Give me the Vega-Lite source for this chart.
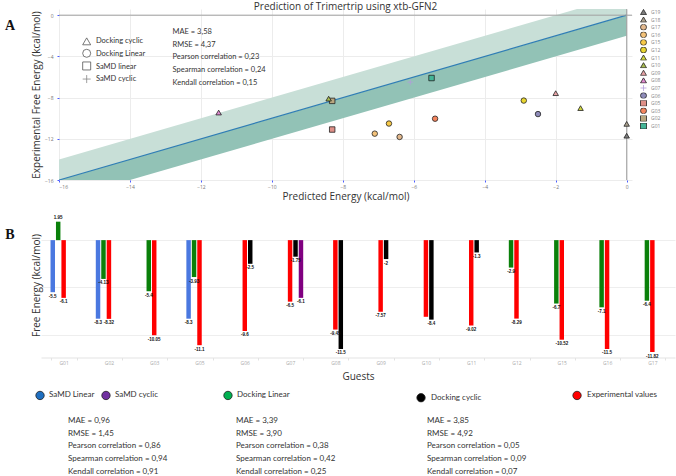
{
  "$schema": "https://vega.github.io/schema/vega-lite/v6.json",
  "background": "white",
  "padding": {"left": 4, "top": 1, "right": 0, "bottom": 0},
  "columns": 1,
  "align": "none",
  "spacing": 6,
  "resolve": {
    "scale": {"color": "independent", "shape": "independent", "stroke": "independent"},
    "legend": {"color": "independent", "shape": "independent", "stroke": "independent"}
  },
  "datasets": {
    "band": [
      {"pred": -16, "lo": -18, "mid": -16, "hi": -14},
      {"pred": 0, "lo": -2, "mid": 0, "hi": 2}
    ],
    "points": [
      {"guest": "G01", "method": "SaMD linear", "pred": -5.5, "exp": -6.1},
      {"guest": "G02", "method": "SaMD linear", "pred": -8.3, "exp": -8.32},
      {"guest": "G03", "method": "Docking Linear", "pred": -5.4, "exp": -10.05},
      {"guest": "G05", "method": "SaMD linear", "pred": -8.3, "exp": -11.1},
      {"guest": "G06", "method": "Docking Linear", "pred": -2.5, "exp": -9.6},
      {"guest": "G07", "method": "SaMD cyclic", "pred": -6.1, "exp": -6.5},
      {"guest": "G08", "method": "Docking cyclic", "pred": -11.5, "exp": -9.45},
      {"guest": "G09", "method": "Docking cyclic", "pred": -2.0, "exp": -7.57},
      {"guest": "G10", "method": "Docking cyclic", "pred": -8.4, "exp": -8.1},
      {"guest": "G11", "method": "Docking cyclic", "pred": -1.3, "exp": -9.02},
      {"guest": "G12", "method": "Docking Linear", "pred": -2.9, "exp": -8.29},
      {"guest": "G15", "method": "Docking Linear", "pred": -6.7, "exp": -10.52},
      {"guest": "G16", "method": "Docking Linear", "pred": -7.1, "exp": -11.5},
      {"guest": "G17", "method": "Docking Linear", "pred": -6.4, "exp": -11.82},
      {"guest": "G18", "method": "Docking cyclic", "pred": 0, "exp": -10.55},
      {"guest": "G19", "method": "Docking cyclic", "pred": 0, "exp": -11.7}
    ],
    "bars": [
      {"guest": "G01", "series": "SaMD Linear", "value": -5.5, "label": "-5.5"},
      {"guest": "G01", "series": "Docking Linear", "value": 1.95, "label": "1.95"},
      {"guest": "G01", "series": "Experimental values", "value": -6.1, "label": "-6.1"},
      {"guest": "G02", "series": "SaMD Linear", "value": -8.3, "label": "-8.3"},
      {"guest": "G02", "series": "Docking Linear", "value": -4.1, "label": "-4.13"},
      {"guest": "G02", "series": "Experimental values", "value": -8.32, "label": "-8.32"},
      {"guest": "G03", "series": "Docking Linear", "value": -5.4, "label": "-5.4"},
      {"guest": "G03", "series": "Experimental values", "value": -10.05, "label": "-10.05"},
      {"guest": "G05", "series": "SaMD Linear", "value": -8.3, "label": "-8.3"},
      {"guest": "G05", "series": "Docking Linear", "value": -3.9, "label": "-3.93"},
      {"guest": "G05", "series": "Experimental values", "value": -11.1, "label": "-11.1"},
      {"guest": "G06", "series": "Experimental values", "value": -9.6, "label": "-9.6"},
      {"guest": "G06", "series": "Docking cyclic", "value": -2.5, "label": "-2.5"},
      {"guest": "G07", "series": "Experimental values", "value": -6.5, "label": "-6.5"},
      {"guest": "G07", "series": "Docking cyclic", "value": -1.75, "label": "-1.75"},
      {"guest": "G07", "series": "SaMD cyclic", "value": -6.1, "label": "-6.1"},
      {"guest": "G08", "series": "Experimental values", "value": -9.45, "label": "-9.45"},
      {"guest": "G08", "series": "Docking cyclic", "value": -11.5, "label": "-11.5"},
      {"guest": "G09", "series": "Experimental values", "value": -7.57, "label": "-7.57"},
      {"guest": "G09", "series": "Docking cyclic", "value": -2, "label": "-2"},
      {"guest": "G10", "series": "Experimental values", "value": -8.1, "label": ""},
      {"guest": "G10", "series": "Docking cyclic", "value": -8.4, "label": "-8.4"},
      {"guest": "G11", "series": "Experimental values", "value": -9.02, "label": "-9.02"},
      {"guest": "G11", "series": "Docking cyclic", "value": -1.3, "label": "-1.3"},
      {"guest": "G12", "series": "Docking Linear", "value": -2.9, "label": "-2.9"},
      {"guest": "G12", "series": "Experimental values", "value": -8.29, "label": "-8.29"},
      {"guest": "G15", "series": "Docking Linear", "value": -6.7, "label": "-6.7"},
      {"guest": "G15", "series": "Experimental values", "value": -10.52, "label": "-10.52"},
      {"guest": "G16", "series": "Docking Linear", "value": -7.1, "label": "-7.1"},
      {"guest": "G16", "series": "Experimental values", "value": -11.5, "label": "-11.5"},
      {"guest": "G17", "series": "Docking Linear", "value": -6.4, "label": "-6.4"},
      {"guest": "G17", "series": "Experimental values", "value": -11.82, "label": "-11.82"}
    ]
  },
  "concat": [
    {
      "width": 573,
      "height": 171,
      "title": {"text": "Prediction of Trimertrip using xtb-GFN2", "font": "Open Sans", "fontSize": 10, "fontWeight": "normal", "color": "#333333", "offset": -3},
      "layer": [
        {
          "data": {"name": "band"},
          "mark": {"type": "area", "color": "#c8dfd7", "clip": true},
          "encoding": {
            "x": {"field": "pred", "type": "quantitative", "title": "Predicted Energy (kcal/mol)",
              "scale": {"domain": [-16, 0.15], "nice": false, "zero": false},
              "axis": {"values": [-16,-15,-14,-13,-12,-11,-10,-9,-8,-7,-6,-5,-4,-3,-2,-1,0], "grid": true, "gridColor": "#ececec", "domain": false, "tickColor": "#4b5cff", "tickSize": 2, "labelFontSize": 5, "labelColor": "#777777", "labelPadding": 2, "titleFontSize": 10, "titleFontWeight": "normal", "titleColor": "#333333", "titlePadding": 2}},
            "y": {"field": "hi", "type": "quantitative", "title": "Experimental Free Energy (kcal/mol)",
              "scale": {"domain": [-16, 0.6], "nice": false, "zero": false},
              "axis": {"values": [-16,-15,-14,-13,-12,-11,-10,-9,-8,-7,-6,-5,-4,-3,-2,-1,0], "grid": true, "gridColor": "#ececec", "domain": false, "tickColor": "#4b5cff", "tickSize": 2, "labelFontSize": 5, "labelColor": "#777777", "labelPadding": 4, "titleFontSize": 10, "titleFontWeight": "normal", "titleColor": "#333333", "titlePadding": 3}},
            "y2": {"field": "mid"}
          }
        },
        {
          "data": {"name": "band"},
          "mark": {"type": "area", "color": "#92c2b6", "clip": true},
          "encoding": {
            "x": {"field": "pred", "type": "quantitative", "title": "Predicted Energy (kcal/mol)"},
            "y": {"field": "mid", "type": "quantitative", "title": "Experimental Free Energy (kcal/mol)"},
            "y2": {"field": "lo"}
          }
        },
        {
          "data": {"name": "band"},
          "mark": {"type": "line", "color": "#2f7db5", "strokeWidth": 1.2, "clip": true},
          "encoding": {
            "x": {"field": "pred", "type": "quantitative", "title": "Predicted Energy (kcal/mol)"},
            "y": {"field": "mid", "type": "quantitative", "title": "Experimental Free Energy (kcal/mol)"}
          }
        },
        {
          "data": {"values": [{}]},
          "mark": {"type": "rule", "color": "#a0a0a0", "strokeWidth": 1},
          "encoding": {"y": {"datum": 0}}
        },
        {
          "data": {"values": [{}]},
          "mark": {"type": "rule", "color": "#a0a0a0", "strokeWidth": 1},
          "encoding": {"x": {"datum": 0}}
        },
        {
          "data": {"name": "points"},
          "mark": {"type": "point", "filled": true, "size": 30, "strokeWidth": 0.8, "opacity": 1},
          "encoding": {
            "x": {"field": "pred", "type": "quantitative", "title": "Predicted Energy (kcal/mol)"},
            "y": {"field": "exp", "type": "quantitative", "title": "Experimental Free Energy (kcal/mol)"},
            "color": {"field": "guest", "type": "nominal",
              "scale": {"domain": ["G19","G18","G17","G16","G15","G12","G11","G10","G09","G08","G07","G06","G05","G03","G02","G01"],
                "range": ["#7d7d7d","#a89e8c","#e3b98e","#f3c27a","#f7c948","#e9d630","#cfd640","#a8bb50","#e9a3a6","#e08ad0","#b49cdc","#8e8bb9","#df9088","#f4855e","#b9a77f","#43b597"]},
              "legend": {"title": null, "orient": "right", "offset": 8, "labelFontSize": 5, "labelColor": "#888888", "symbolSize": 36, "rowPadding": 1.6, "clipHeight": 6, "labelOffset": 4, "symbolStrokeWidth": 0.8, "labelOverlap": false}},
            "shape": {"field": "guest", "type": "nominal",
              "scale": {"domain": ["G19","G18","G17","G16","G15","G12","G11","G10","G09","G08","G07","G06","G05","G03","G02","G01"],
                "range": ["triangle-up","triangle-up","circle","circle","circle","circle","triangle-up","triangle-up","triangle-up","triangle-up","M-1,0H1M0,-1V1","circle","square","circle","square","square"]},
              "legend": {"title": null, "orient": "right", "offset": 8, "labelFontSize": 5, "labelColor": "#888888", "symbolSize": 36, "rowPadding": 1.6, "clipHeight": 6, "labelOffset": 4, "symbolStrokeWidth": 0.8, "labelOverlap": false}},
            "stroke": {"field": "guest", "type": "nominal",
              "scale": {"domain": ["G19","G18","G17","G16","G15","G12","G11","G10","G09","G08","G07","G06","G05","G03","G02","G01"],
                "range": ["#222222","#222222","#222222","#222222","#222222","#222222","#222222","#222222","#222222","#222222","#b49cdc","#222222","#222222","#222222","#222222","#222222"]},
              "legend": {"title": null, "orient": "right", "offset": 8, "labelFontSize": 5, "labelColor": "#888888", "symbolSize": 36, "rowPadding": 1.6, "clipHeight": 6, "labelOffset": 4, "symbolStrokeWidth": 0.8, "labelOverlap": false}}
          }
        },
        {
          "data": {"values": [{}]},
          "mark": {"type": "point", "shape": "triangle-up", "filled": false, "fill": "#ffffff", "stroke": "#555555", "strokeWidth": 0.8, "size": 64, "opacity": 1},
          "encoding": {"x": {"datum": -15.22}, "y": {"datum": -2.54}}
        },
        {
          "data": {"values": [{}]},
          "mark": {"type": "point", "shape": "circle", "filled": false, "fill": "#ffffff", "stroke": "#555555", "strokeWidth": 0.8, "size": 64, "opacity": 1},
          "encoding": {"x": {"datum": -15.22}, "y": {"datum": -3.7}}
        },
        {
          "data": {"values": [{}]},
          "mark": {"type": "point", "shape": "square", "filled": false, "fill": "#ffffff", "stroke": "#555555", "strokeWidth": 0.8, "size": 64, "opacity": 1},
          "encoding": {"x": {"datum": -15.22}, "y": {"datum": -4.93}}
        },
        {
          "data": {"values": [{}]},
          "mark": {"type": "point", "shape": "M-1,0H1M0,-1V1", "filled": false, "stroke": "#888888", "strokeWidth": 0.8, "size": 64, "opacity": 1},
          "encoding": {"x": {"datum": -15.22}, "y": {"datum": -6.2}}
        },
        {
          "data": {"values": [{}]},
          "mark": {"type": "text", "align": "left", "baseline": "middle", "font": "Lato", "fontSize": 7.5, "lineHeight": 12.6, "color": "#333333",
            "text": ["Docking cyclic", "Docking Linear", "SaMD linear", "SaMD cyclic"]},
          "encoding": {"x": {"datum": -14.96}, "y": {"datum": -2.54}}
        },
        {
          "data": {"values": [{}]},
          "mark": {"type": "text", "align": "left", "baseline": "middle", "font": "Lato", "fontSize": 7.5, "lineHeight": 12.6, "color": "#333333",
            "text": ["MAE = 3,58", "RMSE = 4,37", "Pearson correlation = 0,23", "Spearman correlation = 0,24", "Kendall correlation = 0,15"]},
          "encoding": {"x": {"datum": -12.8}, "y": {"datum": -1.66}}
        },
        {
          "data": {"values": [{}]},
          "mark": {"type": "text", "text": "A", "font": "Liberation Serif", "fontWeight": "bold", "fontSize": 14, "dx": -49, "align": "center", "baseline": "middle", "color": "#111111"},
          "encoding": {"x": {"datum": -16}, "y": {"datum": -1.05}}
        }
      ]
    },
    {
      "width": 616,
      "height": 150.5,
      "data": {"name": "bars"},
      "layer": [
        {
          "mark": {"type": "bar"},
          "encoding": {
            "x": {"field": "guest", "type": "nominal", "title": "Guests",
              "scale": {"paddingInner": 0.42, "paddingOuter": 0.21, "range": [-18, 616]},
              "axis": {"tickBand": "extent", "labelAngle": 0, "domainColor": "#e3e3e3", "tickColor": "#e3e3e3", "tickSize": 2.5, "labelFontSize": 5, "labelColor": "#aaaaaa", "labelPadding": 0, "titleFontSize": 10, "titleFontWeight": "normal", "titleColor": "#333333", "titlePadding": 6}},
            "xOffset": {"field": "series", "type": "nominal",
              "scale": {"domain": ["SaMD Linear", "Docking Linear", "Experimental values", "Docking cyclic", "SaMD cyclic"], "paddingInner": 0.18}},
            "y": {"field": "value", "type": "quantitative", "stack": null, "title": "Free Energy (kcal/mol)",
              "scale": {"domain": [-12.4, 3.5], "nice": false, "zero": false},
              "axis": {"values": [-10, -7.5, -5, -2.5, 0, 2.5], "labelExpr": "datum.value == 2.5 ? '2.5' : ''", "labelOverlap": false, "offset": 18, "grid": true, "gridColor": "#eeeeee", "domain": false, "ticks": false, "labelFontSize": 5, "labelColor": "#999999", "labelPadding": 6, "titleFontSize": 10, "titleFontWeight": "normal", "titleColor": "#333333", "titleX": 0, "titleY": 78}},
            "y2": {"datum": 0},
            "color": {"field": "series", "type": "nominal",
              "scale": {"domain": ["SaMD Linear", "Docking Linear", "Experimental values", "Docking cyclic", "SaMD cyclic"], "range": ["#4a78e0", "#0a800a", "#ff0000", "#000000", "#800080"]},
              "legend": null}
          }
        },
        {
          "transform": [{"filter": "datum.value < 0"}],
          "mark": {"type": "text", "baseline": "top", "dy": 1.5, "font": "Liberation Sans", "fontWeight": "bold", "fontSize": 4.5, "color": "#111111"},
          "encoding": {
            "x": {"field": "guest", "type": "nominal", "title": "Guests"},
            "xOffset": {"field": "series", "type": "nominal"},
            "y": {"field": "value", "type": "quantitative", "title": "Free Energy (kcal/mol)"},
            "text": {"field": "label", "type": "nominal"}
          }
        },
        {
          "transform": [{"filter": "datum.value >= 0"}],
          "mark": {"type": "text", "baseline": "bottom", "dy": -1.5, "font": "Liberation Sans", "fontWeight": "bold", "fontSize": 4.5, "color": "#111111"},
          "encoding": {
            "x": {"field": "guest", "type": "nominal", "title": "Guests"},
            "xOffset": {"field": "series", "type": "nominal"},
            "y": {"field": "value", "type": "quantitative", "title": "Free Energy (kcal/mol)"},
            "text": {"field": "label", "type": "nominal"}
          }
        },
        {
          "data": {"values": [{}]},
          "mark": {"type": "text", "text": "B", "font": "Liberation Serif", "fontWeight": "bold", "fontSize": 14, "dx": -53.65, "align": "center", "baseline": "middle", "color": "#111111"},
          "encoding": {"x": {"datum": "G01", "type": "nominal"}, "y": {"datum": 0.56, "type": "quantitative"}}
        }
      ]
    },
    {
      "width": 617,
      "height": 90,
      "data": {"values": [{}]},
      "encoding": {
        "x": {"type": "quantitative", "scale": {"domain": [0, 100], "range": [-54, 617], "nice": false, "zero": false}, "axis": null},
        "y": {"type": "quantitative", "scale": {"domain": [0, 100], "nice": false, "zero": false, "reverse": true}, "axis": null}
      },
      "layer": [
        {"mark": {"type": "point", "filled": true, "fill": "#1f6fc0", "stroke": "#222222", "strokeWidth": 0.8, "size": 70, "opacity": 1}, "encoding": {"x": {"datum": 5.22}, "y": {"datum": 9.4}}},
        {"mark": {"type": "point", "filled": true, "fill": "#7030a0", "stroke": "#222222", "strokeWidth": 0.8, "size": 70, "opacity": 1}, "encoding": {"x": {"datum": 15.05}, "y": {"datum": 9.4}}},
        {"mark": {"type": "point", "filled": true, "fill": "#00b050", "stroke": "#222222", "strokeWidth": 0.8, "size": 70, "opacity": 1}, "encoding": {"x": {"datum": 33.23}, "y": {"datum": 9.4}}},
        {"mark": {"type": "point", "filled": true, "fill": "#000000", "stroke": "#222222", "strokeWidth": 0.8, "size": 70, "opacity": 1}, "encoding": {"x": {"datum": 62.0}, "y": {"datum": 11.9}}},
        {"mark": {"type": "point", "filled": true, "fill": "#ff0000", "stroke": "#222222", "strokeWidth": 0.8, "size": 70, "opacity": 1}, "encoding": {"x": {"datum": 85.25}, "y": {"datum": 9.4}}},
        {"mark": {"type": "text", "align": "left", "baseline": "middle", "font": "Lato", "fontSize": 8, "color": "#333333", "text": "SaMD Linear"}, "encoding": {"x": {"datum": 6.56}, "y": {"datum": 9.4}}},
        {"mark": {"type": "text", "align": "left", "baseline": "middle", "font": "Lato", "fontSize": 8, "color": "#333333", "text": "SaMD cyclic"}, "encoding": {"x": {"datum": 16.39}, "y": {"datum": 9.4}}},
        {"mark": {"type": "text", "align": "left", "baseline": "middle", "font": "Lato", "fontSize": 8, "color": "#333333", "text": "Docking Linear"}, "encoding": {"x": {"datum": 34.58}, "y": {"datum": 9.4}}},
        {"mark": {"type": "text", "align": "left", "baseline": "middle", "font": "Lato", "fontSize": 8, "color": "#333333", "text": "Docking cyclic"}, "encoding": {"x": {"datum": 63.49}, "y": {"datum": 11.9}}},
        {"mark": {"type": "text", "align": "left", "baseline": "middle", "font": "Lato", "fontSize": 8, "color": "#333333", "text": "Experimental values"}, "encoding": {"x": {"datum": 86.74}, "y": {"datum": 9.4}}},
        {"mark": {"type": "text", "align": "left", "baseline": "middle", "font": "Lato", "fontSize": 8, "lineHeight": 12.6, "color": "#333333", "text": ["MAE = 0,96", "RMSE = 1,45", "Pearson correlation = 0,86", "Spearman correlation = 0,94", "Kendall correlation = 0,91"]}, "encoding": {"x": {"datum": 9.39}, "y": {"datum": 38.1}}},
        {"mark": {"type": "text", "align": "left", "baseline": "middle", "font": "Lato", "fontSize": 8, "lineHeight": 12.6, "color": "#333333", "text": ["MAE = 3,39", "RMSE = 3,90", "Pearson correlation = 0,38", "Spearman correlation = 0,42", "Kendall correlation = 0,25"]}, "encoding": {"x": {"datum": 34.43}, "y": {"datum": 38.1}}},
        {"mark": {"type": "text", "align": "left", "baseline": "middle", "font": "Lato", "fontSize": 8, "lineHeight": 12.6, "color": "#333333", "text": ["MAE = 3,85", "RMSE = 4,92", "Pearson correlation = 0,05", "Spearman correlation = 0,09", "Kendall correlation = 0,07"]}, "encoding": {"x": {"datum": 62.89}, "y": {"datum": 38.1}}}
      ]
    }
  ],
  "config": {
    "view": {"stroke": null},
    "font": "Open Sans",
    "axis": {"labelFont": "Open Sans", "titleFont": "Open Sans"},
    "legend": {"labelFont": "Open Sans", "symbolSize": 36, "rowPadding": 1.6}
  }
}
